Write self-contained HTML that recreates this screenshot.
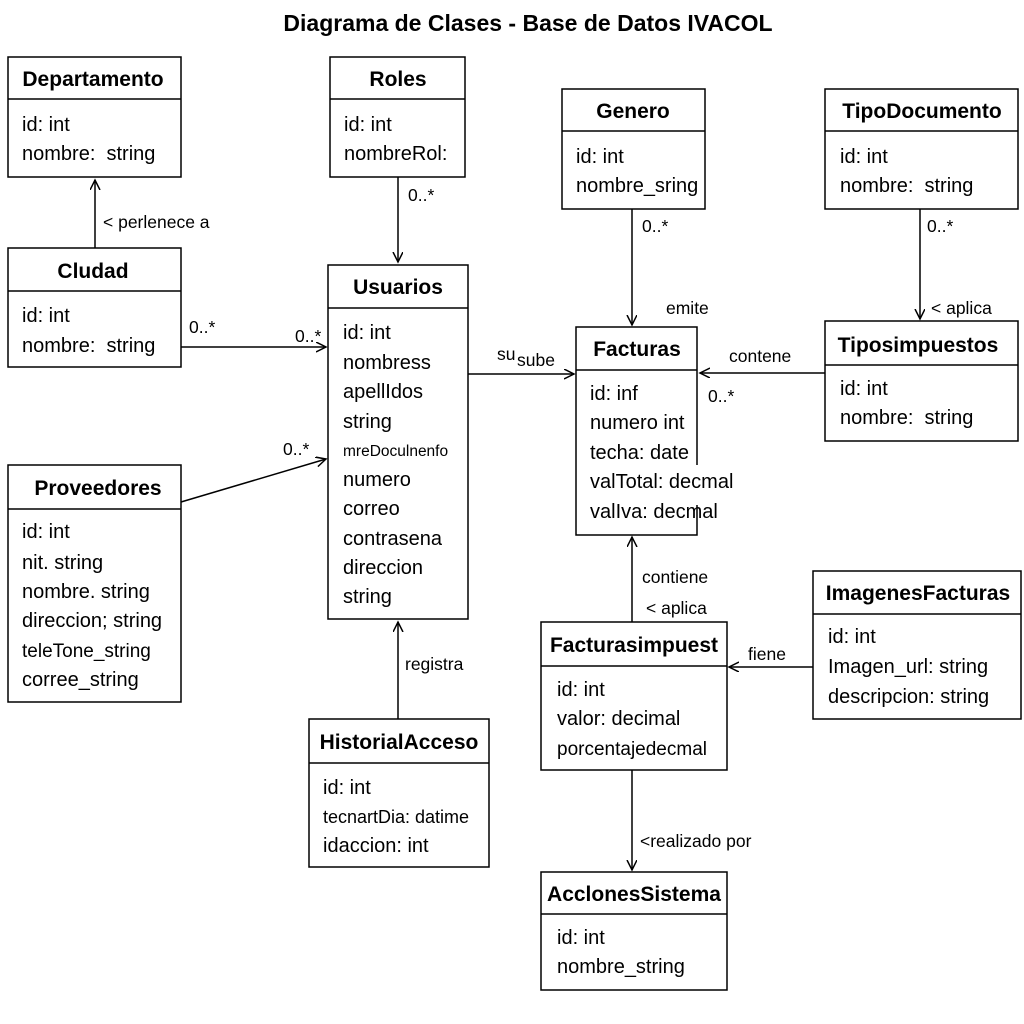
<!DOCTYPE html>
<html><head><meta charset="utf-8"><style>
html,body{margin:0;padding:0;background:#fff}
svg{display:block}
text{font-family:"Liberation Sans","DejaVu Sans",sans-serif;fill:#000;white-space:pre}
.h{font-weight:bold;font-size:21px;text-anchor:middle}
.a{font-size:20px}
.l{font-size:17.5px}
rect{fill:#fff;stroke:#000;stroke-width:1.5}
line{stroke:#000;stroke-width:1.5}
</style></head><body>
<svg width="1024" height="1024" viewBox="0 0 1024 1024" xmlns="http://www.w3.org/2000/svg" xml:space="preserve">
<defs><marker id="ar" markerWidth="12" markerHeight="12" refX="10" refY="5" orient="auto" markerUnits="userSpaceOnUse"><path d="M0,0 L10,5 L0,10" fill="none" stroke="#000" stroke-width="1.5"/></marker></defs>
<text x="528" y="31" style="font-weight:bold;font-size:23px;text-anchor:middle">Diagrama de Clases - Base de Datos IVACOL</text>

<line x1="95" y1="248" x2="95" y2="180" marker-end="url(#ar)"/>
<text class="l" x="103" y="228">&lt; perlenece a</text>
<line x1="398" y1="177" x2="398" y2="262" marker-end="url(#ar)"/>
<text class="l" x="408" y="201">0..*</text>
<line x1="181" y1="347" x2="326" y2="347" marker-end="url(#ar)"/>
<text class="l" x="189" y="333">0..*</text>
<text class="l" x="295" y="342">0..*</text>
<line x1="181" y1="502" x2="326" y2="459" marker-end="url(#ar)"/>
<text class="l" x="283" y="455">0..*</text>
<line x1="468" y1="374" x2="574" y2="374" marker-end="url(#ar)"/>
<text class="l" x="497" y="360">su</text>
<text class="l" x="517" y="366">sube</text>
<line x1="632" y1="209" x2="632" y2="325" marker-end="url(#ar)"/>
<text class="l" x="642" y="232">0..*</text>
<text class="l" x="666" y="314">emite</text>
<line x1="920" y1="209" x2="920" y2="319" marker-end="url(#ar)"/>
<text class="l" x="927" y="232">0..*</text>
<text class="l" x="931" y="314">&lt; aplica</text>
<line x1="825" y1="373" x2="700" y2="373" marker-end="url(#ar)"/>
<text class="l" x="729" y="362">contene</text>
<text class="l" x="708" y="402">0..*</text>
<line x1="632" y1="622" x2="632" y2="537" marker-end="url(#ar)"/>
<text class="l" x="642" y="583">contiene</text>
<text class="l" x="646" y="614">&lt; aplica</text>
<line x1="813" y1="667" x2="729" y2="667" marker-end="url(#ar)"/>
<text class="l" x="748" y="660">fiene</text>
<line x1="398" y1="719" x2="398" y2="622" marker-end="url(#ar)"/>
<text class="l" x="405" y="670">registra</text>
<line x1="632" y1="770" x2="632" y2="870" marker-end="url(#ar)"/>
<text class="l" x="640" y="847">&lt;realizado por</text>

<rect x="8" y="57" width="173" height="120"/><line x1="8" y1="99" x2="181" y2="99"/>
<text class="h" x="93" y="86">Departamento</text>
<text class="a" x="22" y="131">id: int</text><text class="a" x="22" y="160">nombre:  string</text>

<rect x="330" y="57" width="135" height="120"/><line x1="330" y1="99" x2="465" y2="99"/>
<text class="h" x="398" y="86">Roles</text>
<text class="a" x="344" y="131">id: int</text><text class="a" x="344" y="160">nombreRol:</text>

<rect x="562" y="89" width="143" height="120"/><line x1="562" y1="131" x2="705" y2="131"/>
<text class="h" x="633" y="118">Genero</text>
<text class="a" x="576" y="163">id: int</text><text class="a" x="576" y="192">nombre_sring</text>

<rect x="825" y="89" width="193" height="120"/><line x1="825" y1="131" x2="1018" y2="131"/>
<text class="h" x="922" y="118">TipoDocumento</text>
<text class="a" x="840" y="163">id: int</text><text class="a" x="840" y="192">nombre:  string</text>

<rect x="8" y="248" width="173" height="119"/><line x1="8" y1="291" x2="181" y2="291"/>
<text class="h" x="93" y="278">Cludad</text>
<text class="a" x="22" y="322">id: int</text><text class="a" x="22" y="352">nombre:  string</text>

<rect x="328" y="265" width="140" height="354"/><line x1="328" y1="308" x2="468" y2="308"/>
<text class="h" x="398" y="294">Usuarios</text>
<text class="a" x="343" y="339">id: int</text>
<text class="a" x="343" y="369">nombress</text>
<text class="a" x="343" y="398">apellIdos</text>
<text class="a" x="343" y="428">string</text>
<text class="a" x="343" y="456" style="font-size:15.5px">mreDoculnenfo</text>
<text class="a" x="343" y="486">numero</text>
<text class="a" x="343" y="515">correo</text>
<text class="a" x="343" y="545">contrasena</text>
<text class="a" x="343" y="574">direccion</text>
<text class="a" x="343" y="603">string</text>

<rect x="576" y="327" width="121" height="208"/><line x1="576" y1="370" x2="697" y2="370"/>
<text class="h" x="637" y="356">Facturas</text>
<text class="a" x="590" y="400">id: inf</text>
<text class="a" x="590" y="429">numero int</text>
<text class="a" x="590" y="459">techa: date</text>
<rect x="688" y="465" width="60" height="40" style="stroke:none"/>
<text class="a" x="590" y="488">valTotal: decmal</text>
<text class="a" x="590" y="518">valIva: decmal</text>

<rect x="825" y="321" width="193" height="120"/><line x1="825" y1="365" x2="1018" y2="365"/>
<text class="h" x="918" y="352">Tiposimpuestos</text>
<text class="a" x="840" y="395">id: int</text><text class="a" x="840" y="424">nombre:  string</text>

<rect x="8" y="465" width="173" height="237"/><line x1="8" y1="509" x2="181" y2="509"/>
<text class="h" x="98" y="495">Proveedores</text>
<text class="a" x="22" y="538">id: int</text>
<text class="a" x="22" y="569">nit. string</text>
<text class="a" x="22" y="598">nombre. string</text>
<text class="a" x="22" y="627">direccion; string</text>
<text class="a" x="22" y="657" style="font-size:19px">teleTone_string</text>
<text class="a" x="22" y="686">corree_string</text>

<rect x="813" y="571" width="208" height="148"/><line x1="813" y1="614" x2="1021" y2="614"/>
<text class="h" x="918" y="600">ImagenesFacturas</text>
<text class="a" x="828" y="643">id: int</text>
<text class="a" x="828" y="673">Imagen_url: string</text>
<text class="a" x="828" y="703">descripcion: string</text>

<rect x="541" y="622" width="186" height="148"/><line x1="541" y1="666" x2="727" y2="666"/>
<text class="h" x="634" y="652">Facturasimpuest</text>
<text class="a" x="557" y="696">id: int</text>
<text class="a" x="557" y="725">valor: decimal</text>
<text class="a" x="557" y="755" style="font-size:19px">porcentajedecmal</text>

<rect x="309" y="719" width="180" height="148"/><line x1="309" y1="763" x2="489" y2="763"/>
<text class="h" x="399" y="749">HistorialAcceso</text>
<text class="a" x="323" y="794">id: int</text>
<text class="a" x="323" y="823" style="font-size:18px">tecnartDia: datime</text>
<text class="a" x="323" y="852">idaccion: int</text>

<rect x="541" y="872" width="186" height="118"/><line x1="541" y1="914" x2="727" y2="914"/>
<text class="h" x="634" y="901">AcclonesSistema</text>
<text class="a" x="557" y="944">id: int</text>
<text class="a" x="557" y="973">nombre_string</text>
</svg>
</body></html>
